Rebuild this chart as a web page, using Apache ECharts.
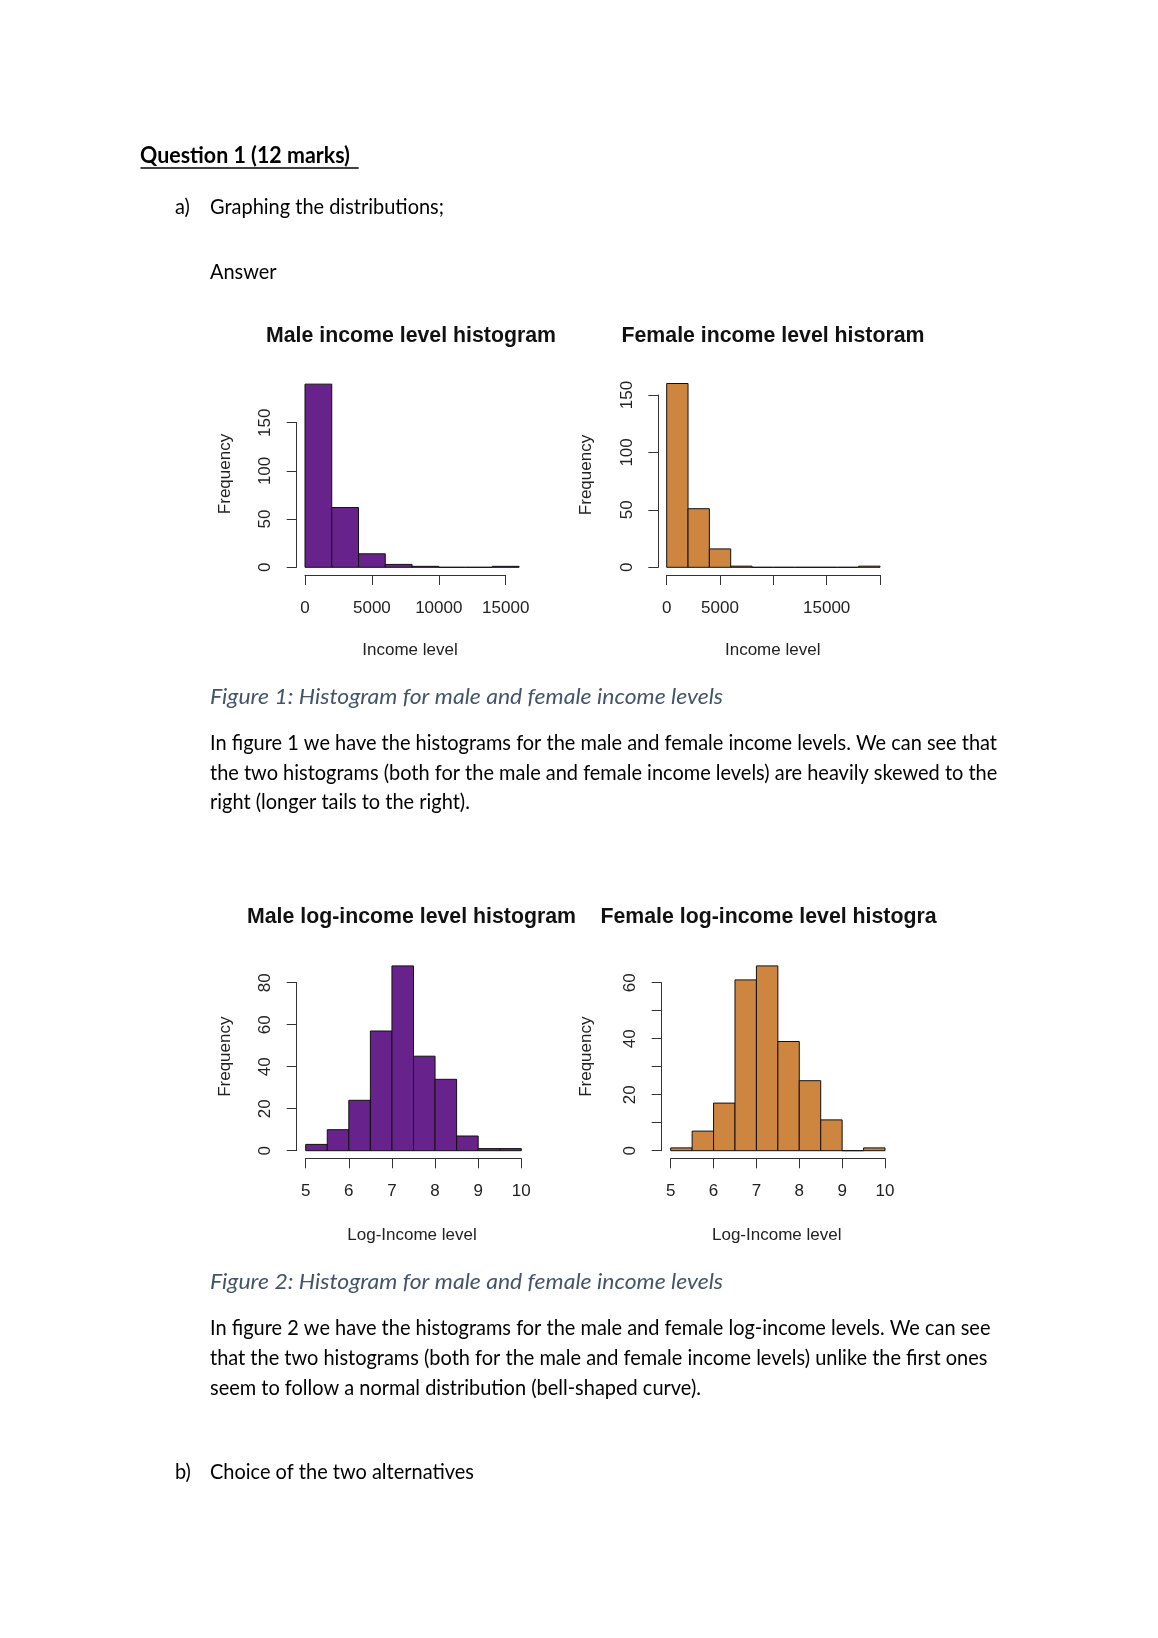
<!DOCTYPE html>
<html><head><meta charset="utf-8">
<script src="https://cdn.jsdelivr.net/npm/echarts@6/dist/echarts.min.js"></script>
<style>html,body{margin:0;padding:0;background:#fff;}#c{width:1158px;height:1638px;}</style>
</head><body><div id="c"></div>
<script>
// ---------- data ----------
const maleIncomeBins = [0, 2000, 4000, 6000, 8000, 10000, 12000, 14000, 16000];
const maleIncomeFreq = [190, 62, 14, 3, 1, 0, 0, 1];
const femaleIncomeBins = [0, 2000, 4000, 6000, 8000, 10000, 12000, 14000, 16000, 18000, 20000];
const femaleIncomeFreq = [160, 51, 16, 1, 0, 0, 0, 0, 0, 1];
const maleLogBins = [5, 5.5, 6, 6.5, 7, 7.5, 8, 8.5, 9, 9.5, 10];
const maleLogFreq = [3, 10, 24, 57, 88, 45, 34, 7, 1, 1];
const femaleLogBins = [5, 5.5, 6, 6.5, 7, 7.5, 8, 8.5, 9, 9.5, 10];
const femaleLogFreq = [1, 7, 17, 61, 66, 39, 25, 11, 0, 1];

const maleIncomeXTicks = ['0', '5000', '10000', '15000'];
const femaleIncomeXTicks = ['0', '5000', '', '15000', ''];
const incomeYTicks = ['0', '50', '100', '150'];
const logXTicks = ['5', '6', '7', '8', '9', '10'];
const maleLogYTicks = ['0', '20', '40', '60', '80'];
const femaleLogYTicks = ['0', '', '20', '', '40', '', '60'];

const chartTitles = ['Male income level histogram', 'Female income level historam',
  'Male log-income level histogram', 'Female log-income level histogram'];
const xNames = ['Income level', 'Income level', 'Log-Income level', 'Log-Income level'];
const yName = 'Frequency';

const questionText = 'Question 1 (12 marks)';
const partA = ['a)', 'Graphing the distributions;'];
const answerText = 'Answer';
const caption1 = 'Figure 1: Histogram for male and female income levels';
const para1 = [
  'In figure 1 we have the histograms for the male and female income levels. We can see that',
  'the two histograms (both for the male and female income levels) are heavily skewed to the',
  'right (longer tails to the right).'
];
const caption2 = 'Figure 2: Histogram for male and female income levels';
const para2 = [
  'In figure 2 we have the histograms for the male and female log-income levels. We can see',
  'that the two histograms (both for the male and female income levels) unlike the first ones',
  'seem to follow a normal distribution (bell-shaped curve).'
];
const partB = ['b)', 'Choice of the two alternatives'];

// ---------- styling / layout ----------
const RF = "'Liberation Sans', Arial, sans-serif";
const DF = "Lato, Carlito, 'Open Sans', sans-serif";
const PURPLE = '#68228B';
const PERU = '#CD853F';

const grids = [
  {left: 305, top: 422.7, width: 200.7, height: 144.6},
  {left: 666.7, top: 395, width: 213.3, height: 172.3},
  {left: 305.7, top: 982.7, width: 215.6, height: 168},
  {left: 670.7, top: 982.7, width: 214.3, height: 168}
];

const BODY = 21.5, CAP = 21.5, QS = 22;
const mctx = document.createElement('canvas').getContext('2d');
function sx(text, prefix, size, target) {
  mctx.font = prefix + ' ' + size + 'px Lato';
  return target / mctx.measureText(text).width;
}
const bodyScale = sx(para1[0], '', BODY, 787);
const capScale = sx(caption1, 'italic', CAP, 513);
const qScale = sx(questionText, 'bold', QS, 210);
const MID = 0.36;

function histData(bins, freq) { return freq.map((f, i) => [bins[i], bins[i + 1], f]); }
function histRender(color) {
  return function (params, api) {
    const p0 = api.coord([api.value(0), 0]);
    const p1 = api.coord([api.value(1), api.value(2)]);
    return {type: 'rect',
      shape: {x: p0[0], y: p1[1], width: p1[0] - p0[0], height: p0[1] - p1[1]},
      style: {fill: color, stroke: '#111', lineWidth: 1}};
  };
}
function xAx(gi, min, max, interval, labels, offset) {
  return {type: 'value', gridIndex: gi, min: min, max: max, interval: interval, offset: offset, position: 'bottom',
    axisLine: {show: true, onZero: false, lineStyle: {color: '#333', width: 1}},
    axisTick: {show: true, length: 10, lineStyle: {color: '#333'}},
    axisLabel: {margin: 25, fontSize: 17, color: '#222', fontFamily: RF, showMinLabel: true, showMaxLabel: true,
      formatter: v => { const s = labels[Math.round((v - min) / interval)]; return s === undefined ? '' : s; }},
    splitLine: {show: false}};
}
function yAx(gi, min, max, interval, labels, offset) {
  return {type: 'value', gridIndex: gi, min: min, max: max, interval: interval, offset: offset, position: 'left',
    axisLine: {show: true, onZero: false, lineStyle: {color: '#333', width: 1}},
    axisTick: {show: true, length: 10, lineStyle: {color: '#333'}},
    axisLabel: {margin: 22.5, rotate: 90, fontSize: 17, color: '#222', fontFamily: RF, showMinLabel: true, showMaxLabel: true,
      formatter: v => { const s = labels[Math.round((v - min) / interval)]; return s === undefined ? '' : s; }},
    splitLine: {show: false}};
}

function txt(text, x, y, font, fill, align, rot, scaleX) {
  const el = {type: 'text', x: x, y: y, z: 10,
    style: {text: text, font: font, fill: fill, align: align || 'left', textAlign: align || 'left',
      verticalAlign: 'middle', textVerticalAlign: 'middle'}};
  if (rot) el.rotation = rot;
  if (scaleX) el.scaleX = scaleX;
  return el;
}

const titlePos = [[411, 336.2], [773, 336.2], [411.5, 917], [778, 917]];
const xNamePos = [[410, 650.5], [772.7, 650.5], [412, 1235.5], [776.7, 1235.5]];
const yNamePos = [[225, 474], [586, 475], [225, 1056.7], [586.7, 1056.7]];

const graphics = [];
chartTitles.forEach((t, i) => graphics.push(txt(t, titlePos[i][0], titlePos[i][1], 'bold 21.3px ' + RF, '#111', 'center')));
xNames.forEach((t, i) => graphics.push(txt(t, xNamePos[i][0], xNamePos[i][1], '17px ' + RF, '#222', 'center')));
yNamePos.forEach(p => graphics.push(txt(yName, p[0], p[1], '17px ' + RF, '#222', 'center', Math.PI / 2)));
// the 4th chart title is cut at the image edge in the document
graphics.push({type: 'rect', z: 100, shape: {x: 938, y: 895, width: 60, height: 40}, style: {fill: '#fff'}});

// document text
const bodyFont = BODY + 'px ' + DF;
const capFont = 'italic ' + CAP + 'px ' + DF;
const qFont = 'bold ' + QS + 'px ' + DF;
function bl(b, s) { return b - MID * s; }
function body(text, x, b) { return txt(text, x, bl(b, BODY), bodyFont, '#000', 'left', 0, bodyScale); }
graphics.push(txt(questionText, 140, bl(164.3, QS), qFont, '#000', 'left', 0, qScale));
graphics.push({type: 'line', z: 10, shape: {x1: 140.5, y1: 168, x2: 358.7, y2: 168}, style: {stroke: '#000', lineWidth: 1.6}});
graphics.push(body(partA[0], 175, 214.5));
graphics.push(body(partA[1], 210, 214.5));
graphics.push(body(answerText, 210, 280));
graphics.push(txt(caption1, 210, bl(705.3, CAP), capFont, '#44546A', 'left', 0, capScale));
[751, 780.5, 810].forEach((b, i) => graphics.push(body(para1[i], 210, b)));
graphics.push(txt(caption2, 210, bl(1290.3, CAP), capFont, '#44546A', 'left', 0, capScale));
[1336, 1366, 1396].forEach((b, i) => graphics.push(body(para2[i], 210, b)));
graphics.push(body(partB[0], 175, 1479.5));
graphics.push(body(partB[1], 210, 1479.5));

const chart = echarts.init(document.getElementById('c'), null, {renderer: 'canvas'});
chart.setOption({
  backgroundColor: '#fff',
  animation: false,
  grid: grids.map(g => Object.assign({containLabel: false}, g)),
  xAxis: [
    xAx(0, 0, 15000, 5000, maleIncomeXTicks, 7.7),
    xAx(1, 0, 20000, 5000, femaleIncomeXTicks, 7.7),
    xAx(2, 5, 10, 1, logXTicks, 7.6),
    xAx(3, 5, 10, 1, logXTicks, 7.6)
  ],
  yAxis: [
    yAx(0, 0, 150, 50, incomeYTicks, 8.3),
    yAx(1, 0, 150, 50, incomeYTicks, 8.4),
    yAx(2, 0, 80, 20, maleLogYTicks, 9),
    yAx(3, 0, 60, 10, femaleLogYTicks, 9)
  ],
  series: [
    {type: 'custom', xAxisIndex: 0, yAxisIndex: 0, clip: false, renderItem: histRender(PURPLE), encode: {x: [0, 1], y: 2}, data: histData(maleIncomeBins, maleIncomeFreq)},
    {type: 'custom', xAxisIndex: 1, yAxisIndex: 1, clip: false, renderItem: histRender(PERU), encode: {x: [0, 1], y: 2}, data: histData(femaleIncomeBins, femaleIncomeFreq)},
    {type: 'custom', xAxisIndex: 2, yAxisIndex: 2, clip: false, renderItem: histRender(PURPLE), encode: {x: [0, 1], y: 2}, data: histData(maleLogBins, maleLogFreq)},
    {type: 'custom', xAxisIndex: 3, yAxisIndex: 3, clip: false, renderItem: histRender(PERU), encode: {x: [0, 1], y: 2}, data: histData(femaleLogBins, femaleLogFreq)}
  ],
  graphic: {elements: graphics}
});
</script></body></html>
